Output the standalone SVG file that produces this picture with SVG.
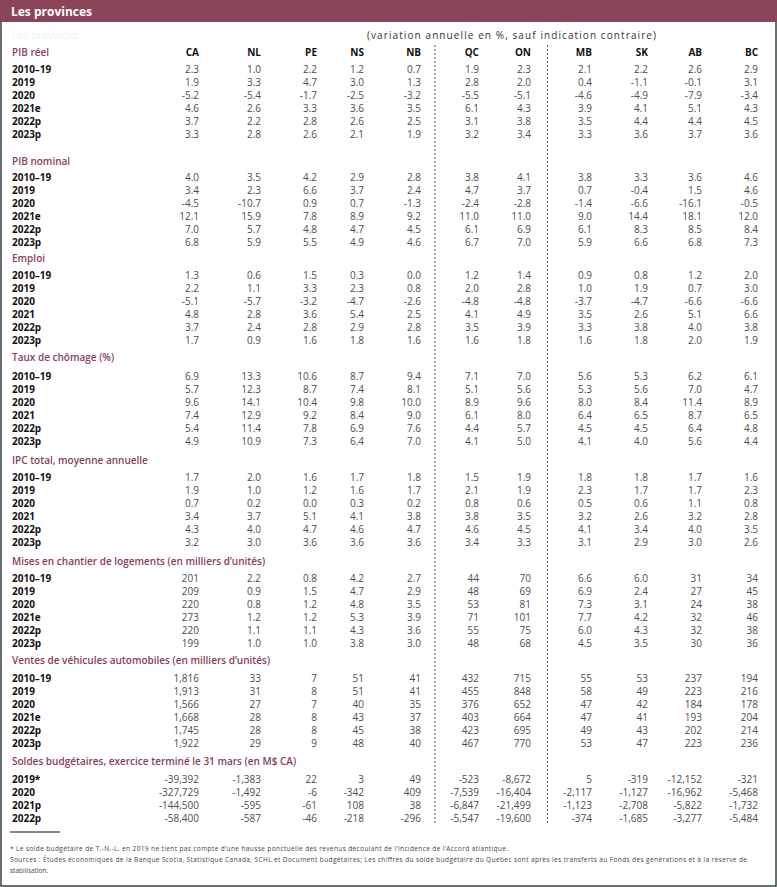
<svg xmlns="http://www.w3.org/2000/svg" width="777" height="887" viewBox="0 0 777 887">
<style>
text{font-family:"Open Sans","Noto Sans","DejaVu Sans",sans-serif;font-size:10px}
.title{fill:#fff;font-weight:700;font-size:12px}
.ghost{fill:#e2f4f9;font-size:10px}
.sub{fill:#333}
.sec{fill:#8b3d57;font-weight:600}
.hd{fill:#111;font-weight:700;text-anchor:end}
.lab{fill:#111;font-weight:700}
.n{fill:#4d4d4d;text-anchor:end}
.fn{fill:#444;font-size:6.5px}
.dot{stroke:#555;stroke-width:1;stroke-dasharray:2 2;fill:none}
.frame{stroke:#34423c;stroke-width:1.5;fill:none}
</style>
<rect x="0" y="0" width="777" height="22" fill="#8b4558"/>
<text class="title" x="11" y="15.5">Les provinces</text>
<path class="frame" d="M1,22 V886 H776 V22"/>
<text class="ghost" x="12" y="39" textLength="66">Les provinces</text>
<text class="sub" x="367" y="39" textLength="289">(variation annuelle en %, sauf indication contraire)</text>

<g id="connectors">
<line class="dot" x1="435" y1="45" x2="435" y2="824"/>
<line class="dot" x1="547.5" y1="45" x2="547.5" y2="824"/>
</g>

<g id="colheads">
<text class="hd" y="55.5"><tspan x="199">CA</tspan><tspan x="261">NL</tspan><tspan x="317">PE</tspan><tspan x="364">NS</tspan><tspan x="421">NB</tspan><tspan x="479">QC</tspan><tspan x="531">ON</tspan><tspan x="592">MB</tspan><tspan x="648">SK</tspan><tspan x="702">AB</tspan><tspan x="758">BC</tspan></text>
</g>

<g id="pib-reel">
<text class="sec" x="12" y="55.5">PIB réel</text>
<text class="lab" x="12" y="72.5">2010–19</text>
<text class="lab" x="12" y="85.5">2019</text>
<text class="lab" x="12" y="98.5">2020</text>
<text class="lab" x="12" y="111.5">2021e</text>
<text class="lab" x="12" y="124.5">2022p</text>
<text class="lab" x="12" y="137.5">2023p</text>
<text class="n" y="72.5"><tspan x="199">2.3</tspan><tspan x="261">1.0</tspan><tspan x="317">2.2</tspan><tspan x="364">1.2</tspan><tspan x="421">0.7</tspan><tspan x="479">1.9</tspan><tspan x="531">2.3</tspan><tspan x="592">2.1</tspan><tspan x="648">2.2</tspan><tspan x="702">2.6</tspan><tspan x="758">2.9</tspan></text>
<text class="n" y="85.5"><tspan x="199">1.9</tspan><tspan x="261">3.3</tspan><tspan x="317">4.7</tspan><tspan x="364">3.0</tspan><tspan x="421">1.3</tspan><tspan x="479">2.8</tspan><tspan x="531">2.0</tspan><tspan x="592">0.4</tspan><tspan x="648">-1.1</tspan><tspan x="702">-0.1</tspan><tspan x="758">3.1</tspan></text>
<text class="n" y="98.5"><tspan x="199">-5.2</tspan><tspan x="261">-5.4</tspan><tspan x="317">-1.7</tspan><tspan x="364">-2.5</tspan><tspan x="421">-3.2</tspan><tspan x="479">-5.5</tspan><tspan x="531">-5.1</tspan><tspan x="592">-4.6</tspan><tspan x="648">-4.9</tspan><tspan x="702">-7.9</tspan><tspan x="758">-3.4</tspan></text>
<text class="n" y="111.5"><tspan x="199">4.6</tspan><tspan x="261">2.6</tspan><tspan x="317">3.3</tspan><tspan x="364">3.6</tspan><tspan x="421">3.5</tspan><tspan x="479">6.1</tspan><tspan x="531">4.3</tspan><tspan x="592">3.9</tspan><tspan x="648">4.1</tspan><tspan x="702">5.1</tspan><tspan x="758">4.3</tspan></text>
<text class="n" y="124.5"><tspan x="199">3.7</tspan><tspan x="261">2.2</tspan><tspan x="317">2.8</tspan><tspan x="364">2.6</tspan><tspan x="421">2.5</tspan><tspan x="479">3.1</tspan><tspan x="531">3.8</tspan><tspan x="592">3.5</tspan><tspan x="648">4.4</tspan><tspan x="702">4.4</tspan><tspan x="758">4.5</tspan></text>
<text class="n" y="137.5"><tspan x="199">3.3</tspan><tspan x="261">2.8</tspan><tspan x="317">2.6</tspan><tspan x="364">2.1</tspan><tspan x="421">1.9</tspan><tspan x="479">3.2</tspan><tspan x="531">3.4</tspan><tspan x="592">3.3</tspan><tspan x="648">3.6</tspan><tspan x="702">3.7</tspan><tspan x="758">3.6</tspan></text>
</g>

<g id="pib-nominal">
<text class="sec" x="12" y="164.5">PIB nominal</text>
<text class="lab" x="12" y="180.5">2010–19</text>
<text class="lab" x="12" y="193.5">2019</text>
<text class="lab" x="12" y="206.5">2020</text>
<text class="lab" x="12" y="219.5">2021e</text>
<text class="lab" x="12" y="232.5">2022p</text>
<text class="lab" x="12" y="245.5">2023p</text>
<text class="n" y="180.5"><tspan x="199">4.0</tspan><tspan x="261">3.5</tspan><tspan x="317">4.2</tspan><tspan x="364">2.9</tspan><tspan x="421">2.8</tspan><tspan x="479">3.8</tspan><tspan x="531">4.1</tspan><tspan x="592">3.8</tspan><tspan x="648">3.3</tspan><tspan x="702">3.6</tspan><tspan x="758">4.6</tspan></text>
<text class="n" y="193.5"><tspan x="199">3.4</tspan><tspan x="261">2.3</tspan><tspan x="317">6.6</tspan><tspan x="364">3.7</tspan><tspan x="421">2.4</tspan><tspan x="479">4.7</tspan><tspan x="531">3.7</tspan><tspan x="592">0.7</tspan><tspan x="648">-0.4</tspan><tspan x="702">1.5</tspan><tspan x="758">4.6</tspan></text>
<text class="n" y="206.5"><tspan x="199">-4.5</tspan><tspan x="261">-10.7</tspan><tspan x="317">0.9</tspan><tspan x="364">0.7</tspan><tspan x="421">-1.3</tspan><tspan x="479">-2.4</tspan><tspan x="531">-2.8</tspan><tspan x="592">-1.4</tspan><tspan x="648">-6.6</tspan><tspan x="702">-16.1</tspan><tspan x="758">-0.5</tspan></text>
<text class="n" y="219.5"><tspan x="199">12.1</tspan><tspan x="261">15.9</tspan><tspan x="317">7.8</tspan><tspan x="364">8.9</tspan><tspan x="421">9.2</tspan><tspan x="479">11.0</tspan><tspan x="531">11.0</tspan><tspan x="592">9.0</tspan><tspan x="648">14.4</tspan><tspan x="702">18.1</tspan><tspan x="758">12.0</tspan></text>
<text class="n" y="232.5"><tspan x="199">7.0</tspan><tspan x="261">5.7</tspan><tspan x="317">4.8</tspan><tspan x="364">4.7</tspan><tspan x="421">4.5</tspan><tspan x="479">6.1</tspan><tspan x="531">6.9</tspan><tspan x="592">6.1</tspan><tspan x="648">8.3</tspan><tspan x="702">8.5</tspan><tspan x="758">8.4</tspan></text>
<text class="n" y="245.5"><tspan x="199">6.8</tspan><tspan x="261">5.9</tspan><tspan x="317">5.5</tspan><tspan x="364">4.9</tspan><tspan x="421">4.6</tspan><tspan x="479">6.7</tspan><tspan x="531">7.0</tspan><tspan x="592">5.9</tspan><tspan x="648">6.6</tspan><tspan x="702">6.8</tspan><tspan x="758">7.3</tspan></text>
</g>

<g id="emploi">
<text class="sec" x="12" y="261.5">Emploi</text>
<text class="lab" x="12" y="278.5">2010–19</text>
<text class="lab" x="12" y="291.5">2019</text>
<text class="lab" x="12" y="304.5">2020</text>
<text class="lab" x="12" y="317.5">2021</text>
<text class="lab" x="12" y="330.5">2022p</text>
<text class="lab" x="12" y="343.5">2023p</text>
<text class="n" y="278.5"><tspan x="199">1.3</tspan><tspan x="261">0.6</tspan><tspan x="317">1.5</tspan><tspan x="364">0.3</tspan><tspan x="421">0.0</tspan><tspan x="479">1.2</tspan><tspan x="531">1.4</tspan><tspan x="592">0.9</tspan><tspan x="648">0.8</tspan><tspan x="702">1.2</tspan><tspan x="758">2.0</tspan></text>
<text class="n" y="291.5"><tspan x="199">2.2</tspan><tspan x="261">1.1</tspan><tspan x="317">3.3</tspan><tspan x="364">2.3</tspan><tspan x="421">0.8</tspan><tspan x="479">2.0</tspan><tspan x="531">2.8</tspan><tspan x="592">1.0</tspan><tspan x="648">1.9</tspan><tspan x="702">0.7</tspan><tspan x="758">3.0</tspan></text>
<text class="n" y="304.5"><tspan x="199">-5.1</tspan><tspan x="261">-5.7</tspan><tspan x="317">-3.2</tspan><tspan x="364">-4.7</tspan><tspan x="421">-2.6</tspan><tspan x="479">-4.8</tspan><tspan x="531">-4.8</tspan><tspan x="592">-3.7</tspan><tspan x="648">-4.7</tspan><tspan x="702">-6.6</tspan><tspan x="758">-6.6</tspan></text>
<text class="n" y="317.5"><tspan x="199">4.8</tspan><tspan x="261">2.8</tspan><tspan x="317">3.6</tspan><tspan x="364">5.4</tspan><tspan x="421">2.5</tspan><tspan x="479">4.1</tspan><tspan x="531">4.9</tspan><tspan x="592">3.5</tspan><tspan x="648">2.6</tspan><tspan x="702">5.1</tspan><tspan x="758">6.6</tspan></text>
<text class="n" y="330.5"><tspan x="199">3.7</tspan><tspan x="261">2.4</tspan><tspan x="317">2.8</tspan><tspan x="364">2.9</tspan><tspan x="421">2.8</tspan><tspan x="479">3.5</tspan><tspan x="531">3.9</tspan><tspan x="592">3.3</tspan><tspan x="648">3.8</tspan><tspan x="702">4.0</tspan><tspan x="758">3.8</tspan></text>
<text class="n" y="343.5"><tspan x="199">1.7</tspan><tspan x="261">0.9</tspan><tspan x="317">1.6</tspan><tspan x="364">1.8</tspan><tspan x="421">1.6</tspan><tspan x="479">1.6</tspan><tspan x="531">1.8</tspan><tspan x="592">1.6</tspan><tspan x="648">1.8</tspan><tspan x="702">2.0</tspan><tspan x="758">1.9</tspan></text>
</g>

<g id="chomage">
<text class="sec" x="12" y="360.5">Taux de chômage (%)</text>
<text class="lab" x="12" y="379.5">2010–19</text>
<text class="lab" x="12" y="392.5">2019</text>
<text class="lab" x="12" y="405.5">2020</text>
<text class="lab" x="12" y="418.5">2021</text>
<text class="lab" x="12" y="431.5">2022p</text>
<text class="lab" x="12" y="444.5">2023p</text>
<text class="n" y="379.5"><tspan x="199">6.9</tspan><tspan x="261">13.3</tspan><tspan x="317">10.6</tspan><tspan x="364">8.7</tspan><tspan x="421">9.4</tspan><tspan x="479">7.1</tspan><tspan x="531">7.0</tspan><tspan x="592">5.6</tspan><tspan x="648">5.3</tspan><tspan x="702">6.2</tspan><tspan x="758">6.1</tspan></text>
<text class="n" y="392.5"><tspan x="199">5.7</tspan><tspan x="261">12.3</tspan><tspan x="317">8.7</tspan><tspan x="364">7.4</tspan><tspan x="421">8.1</tspan><tspan x="479">5.1</tspan><tspan x="531">5.6</tspan><tspan x="592">5.3</tspan><tspan x="648">5.6</tspan><tspan x="702">7.0</tspan><tspan x="758">4.7</tspan></text>
<text class="n" y="405.5"><tspan x="199">9.6</tspan><tspan x="261">14.1</tspan><tspan x="317">10.4</tspan><tspan x="364">9.8</tspan><tspan x="421">10.0</tspan><tspan x="479">8.9</tspan><tspan x="531">9.6</tspan><tspan x="592">8.0</tspan><tspan x="648">8.4</tspan><tspan x="702">11.4</tspan><tspan x="758">8.9</tspan></text>
<text class="n" y="418.5"><tspan x="199">7.4</tspan><tspan x="261">12.9</tspan><tspan x="317">9.2</tspan><tspan x="364">8.4</tspan><tspan x="421">9.0</tspan><tspan x="479">6.1</tspan><tspan x="531">8.0</tspan><tspan x="592">6.4</tspan><tspan x="648">6.5</tspan><tspan x="702">8.7</tspan><tspan x="758">6.5</tspan></text>
<text class="n" y="431.5"><tspan x="199">5.4</tspan><tspan x="261">11.4</tspan><tspan x="317">7.8</tspan><tspan x="364">6.9</tspan><tspan x="421">7.6</tspan><tspan x="479">4.4</tspan><tspan x="531">5.7</tspan><tspan x="592">4.5</tspan><tspan x="648">4.5</tspan><tspan x="702">6.4</tspan><tspan x="758">4.8</tspan></text>
<text class="n" y="444.5"><tspan x="199">4.9</tspan><tspan x="261">10.9</tspan><tspan x="317">7.3</tspan><tspan x="364">6.4</tspan><tspan x="421">7.0</tspan><tspan x="479">4.1</tspan><tspan x="531">5.0</tspan><tspan x="592">4.1</tspan><tspan x="648">4.0</tspan><tspan x="702">5.6</tspan><tspan x="758">4.4</tspan></text>
</g>

<g id="ipc">
<text class="sec" x="12" y="463.5">IPC total, moyenne annuelle</text>
<text class="lab" x="12" y="480.5">2010–19</text>
<text class="lab" x="12" y="493.5">2019</text>
<text class="lab" x="12" y="506.5">2020</text>
<text class="lab" x="12" y="519.5">2021</text>
<text class="lab" x="12" y="532.5">2022p</text>
<text class="lab" x="12" y="545.5">2023p</text>
<text class="n" y="480.5"><tspan x="199">1.7</tspan><tspan x="261">2.0</tspan><tspan x="317">1.6</tspan><tspan x="364">1.7</tspan><tspan x="421">1.8</tspan><tspan x="479">1.5</tspan><tspan x="531">1.9</tspan><tspan x="592">1.8</tspan><tspan x="648">1.8</tspan><tspan x="702">1.7</tspan><tspan x="758">1.6</tspan></text>
<text class="n" y="493.5"><tspan x="199">1.9</tspan><tspan x="261">1.0</tspan><tspan x="317">1.2</tspan><tspan x="364">1.6</tspan><tspan x="421">1.7</tspan><tspan x="479">2.1</tspan><tspan x="531">1.9</tspan><tspan x="592">2.3</tspan><tspan x="648">1.7</tspan><tspan x="702">1.7</tspan><tspan x="758">2.3</tspan></text>
<text class="n" y="506.5"><tspan x="199">0.7</tspan><tspan x="261">0.2</tspan><tspan x="317">0.0</tspan><tspan x="364">0.3</tspan><tspan x="421">0.2</tspan><tspan x="479">0.8</tspan><tspan x="531">0.6</tspan><tspan x="592">0.5</tspan><tspan x="648">0.6</tspan><tspan x="702">1.1</tspan><tspan x="758">0.8</tspan></text>
<text class="n" y="519.5"><tspan x="199">3.4</tspan><tspan x="261">3.7</tspan><tspan x="317">5.1</tspan><tspan x="364">4.1</tspan><tspan x="421">3.8</tspan><tspan x="479">3.8</tspan><tspan x="531">3.5</tspan><tspan x="592">3.2</tspan><tspan x="648">2.6</tspan><tspan x="702">3.2</tspan><tspan x="758">2.8</tspan></text>
<text class="n" y="532.5"><tspan x="199">4.3</tspan><tspan x="261">4.0</tspan><tspan x="317">4.7</tspan><tspan x="364">4.6</tspan><tspan x="421">4.7</tspan><tspan x="479">4.6</tspan><tspan x="531">4.5</tspan><tspan x="592">4.1</tspan><tspan x="648">3.4</tspan><tspan x="702">4.0</tspan><tspan x="758">3.5</tspan></text>
<text class="n" y="545.5"><tspan x="199">3.2</tspan><tspan x="261">3.0</tspan><tspan x="317">3.6</tspan><tspan x="364">3.6</tspan><tspan x="421">3.6</tspan><tspan x="479">3.4</tspan><tspan x="531">3.3</tspan><tspan x="592">3.1</tspan><tspan x="648">2.9</tspan><tspan x="702">3.0</tspan><tspan x="758">2.6</tspan></text>
</g>

<g id="mises-en-chantier">
<text class="sec" x="12" y="564.5">Mises en chantier de logements (en milliers d’unités)</text>
<text class="lab" x="12" y="581.5">2010–19</text>
<text class="lab" x="12" y="594.5">2019</text>
<text class="lab" x="12" y="607.5">2020</text>
<text class="lab" x="12" y="620.5">2021e</text>
<text class="lab" x="12" y="633.5">2022p</text>
<text class="lab" x="12" y="646.5">2023p</text>
<text class="n" y="581.5"><tspan x="199">201</tspan><tspan x="261">2.2</tspan><tspan x="317">0.8</tspan><tspan x="364">4.2</tspan><tspan x="421">2.7</tspan><tspan x="479">44</tspan><tspan x="531">70</tspan><tspan x="592">6.6</tspan><tspan x="648">6.0</tspan><tspan x="702">31</tspan><tspan x="758">34</tspan></text>
<text class="n" y="594.5"><tspan x="199">209</tspan><tspan x="261">0.9</tspan><tspan x="317">1.5</tspan><tspan x="364">4.7</tspan><tspan x="421">2.9</tspan><tspan x="479">48</tspan><tspan x="531">69</tspan><tspan x="592">6.9</tspan><tspan x="648">2.4</tspan><tspan x="702">27</tspan><tspan x="758">45</tspan></text>
<text class="n" y="607.5"><tspan x="199">220</tspan><tspan x="261">0.8</tspan><tspan x="317">1.2</tspan><tspan x="364">4.8</tspan><tspan x="421">3.5</tspan><tspan x="479">53</tspan><tspan x="531">81</tspan><tspan x="592">7.3</tspan><tspan x="648">3.1</tspan><tspan x="702">24</tspan><tspan x="758">38</tspan></text>
<text class="n" y="620.5"><tspan x="199">273</tspan><tspan x="261">1.2</tspan><tspan x="317">1.2</tspan><tspan x="364">5.3</tspan><tspan x="421">3.9</tspan><tspan x="479">71</tspan><tspan x="531">101</tspan><tspan x="592">7.7</tspan><tspan x="648">4.2</tspan><tspan x="702">32</tspan><tspan x="758">46</tspan></text>
<text class="n" y="633.5"><tspan x="199">220</tspan><tspan x="261">1.1</tspan><tspan x="317">1.1</tspan><tspan x="364">4.3</tspan><tspan x="421">3.6</tspan><tspan x="479">55</tspan><tspan x="531">75</tspan><tspan x="592">6.0</tspan><tspan x="648">4.3</tspan><tspan x="702">32</tspan><tspan x="758">38</tspan></text>
<text class="n" y="646.5"><tspan x="199">199</tspan><tspan x="261">1.0</tspan><tspan x="317">1.0</tspan><tspan x="364">3.8</tspan><tspan x="421">3.0</tspan><tspan x="479">48</tspan><tspan x="531">68</tspan><tspan x="592">4.5</tspan><tspan x="648">3.5</tspan><tspan x="702">30</tspan><tspan x="758">36</tspan></text>
</g>

<g id="ventes-vehicules">
<text class="sec" x="12" y="663.5">Ventes de véhicules automobiles (en milliers d’unités)</text>
<text class="lab" x="12" y="681.5">2010–19</text>
<text class="lab" x="12" y="694.5">2019</text>
<text class="lab" x="12" y="707.5">2020</text>
<text class="lab" x="12" y="720.5">2021e</text>
<text class="lab" x="12" y="733.5">2022p</text>
<text class="lab" x="12" y="746.5">2023p</text>
<text class="n" y="681.5"><tspan x="199">1,816</tspan><tspan x="261">33</tspan><tspan x="317">7</tspan><tspan x="364">51</tspan><tspan x="421">41</tspan><tspan x="479">432</tspan><tspan x="531">715</tspan><tspan x="592">55</tspan><tspan x="648">53</tspan><tspan x="702">237</tspan><tspan x="758">194</tspan></text>
<text class="n" y="694.5"><tspan x="199">1,913</tspan><tspan x="261">31</tspan><tspan x="317">8</tspan><tspan x="364">51</tspan><tspan x="421">41</tspan><tspan x="479">455</tspan><tspan x="531">848</tspan><tspan x="592">58</tspan><tspan x="648">49</tspan><tspan x="702">223</tspan><tspan x="758">216</tspan></text>
<text class="n" y="707.5"><tspan x="199">1,566</tspan><tspan x="261">27</tspan><tspan x="317">7</tspan><tspan x="364">40</tspan><tspan x="421">35</tspan><tspan x="479">376</tspan><tspan x="531">652</tspan><tspan x="592">47</tspan><tspan x="648">42</tspan><tspan x="702">184</tspan><tspan x="758">178</tspan></text>
<text class="n" y="720.5"><tspan x="199">1,668</tspan><tspan x="261">28</tspan><tspan x="317">8</tspan><tspan x="364">43</tspan><tspan x="421">37</tspan><tspan x="479">403</tspan><tspan x="531">664</tspan><tspan x="592">47</tspan><tspan x="648">41</tspan><tspan x="702">193</tspan><tspan x="758">204</tspan></text>
<text class="n" y="733.5"><tspan x="199">1,745</tspan><tspan x="261">28</tspan><tspan x="317">8</tspan><tspan x="364">45</tspan><tspan x="421">38</tspan><tspan x="479">423</tspan><tspan x="531">695</tspan><tspan x="592">49</tspan><tspan x="648">43</tspan><tspan x="702">202</tspan><tspan x="758">214</tspan></text>
<text class="n" y="746.5"><tspan x="199">1,922</tspan><tspan x="261">29</tspan><tspan x="317">9</tspan><tspan x="364">48</tspan><tspan x="421">40</tspan><tspan x="479">467</tspan><tspan x="531">770</tspan><tspan x="592">53</tspan><tspan x="648">47</tspan><tspan x="702">223</tspan><tspan x="758">236</tspan></text>
</g>

<g id="soldes-budgetaires">
<text class="sec" x="12" y="764.5">Soldes budgétaires, exercice terminé le 31 mars (en M$ CA)</text>
<text class="lab" x="12" y="782.5">2019*</text>
<text class="lab" x="12" y="795.5">2020</text>
<text class="lab" x="12" y="808.5">2021p</text>
<text class="lab" x="12" y="821.5">2022p</text>
<text class="n" y="782.5"><tspan x="199">-39,392</tspan><tspan x="261">-1,383</tspan><tspan x="317">22</tspan><tspan x="364">3</tspan><tspan x="421">49</tspan><tspan x="479">-523</tspan><tspan x="531">-8,672</tspan><tspan x="592">5</tspan><tspan x="648">-319</tspan><tspan x="702">-12,152</tspan><tspan x="758">-321</tspan></text>
<text class="n" y="795.5"><tspan x="199">-327,729</tspan><tspan x="261">-1,492</tspan><tspan x="317">-6</tspan><tspan x="364">-342</tspan><tspan x="421">409</tspan><tspan x="479">-7,539</tspan><tspan x="531">-16,404</tspan><tspan x="592">-2,117</tspan><tspan x="648">-1,127</tspan><tspan x="702">-16,962</tspan><tspan x="758">-5,468</tspan></text>
<text class="n" y="808.5"><tspan x="199">-144,500</tspan><tspan x="261">-595</tspan><tspan x="317">-61</tspan><tspan x="364">108</tspan><tspan x="421">38</tspan><tspan x="479">-6,847</tspan><tspan x="531">-21,499</tspan><tspan x="592">-1,123</tspan><tspan x="648">-2,708</tspan><tspan x="702">-5,822</tspan><tspan x="758">-1,732</tspan></text>
<text class="n" y="821.5"><tspan x="199">-58,400</tspan><tspan x="261">-587</tspan><tspan x="317">-46</tspan><tspan x="364">-218</tspan><tspan x="421">-296</tspan><tspan x="479">-5,547</tspan><tspan x="531">-19,600</tspan><tspan x="592">-374</tspan><tspan x="648">-1,685</tspan><tspan x="702">-3,277</tspan><tspan x="758">-5,484</tspan></text>
</g>

<g id="notes">
<line x1="10" y1="832" x2="60" y2="832" stroke="#888" stroke-width="2"/>
<text class="fn" x="10" y="851" textLength="498">* Le solde budgétaire de T.-N.-L. en 2019 ne tient pas compte d’une hausse ponctuelle des revenus découlant de l’incidence de l’Accord atlantique.</text>
<text class="fn" x="10" y="862" textLength="737">Sources : Études économiques de la Banque Scotia, Statistique Canada, SCHL et Document budgétaires; Les chiffres du solde budgétaire du Québec sont après les transferts au Fonds des générations et à la réserve de</text>
<text class="fn" x="10" y="872.5">stabilisation.</text>
</g>
</svg>
